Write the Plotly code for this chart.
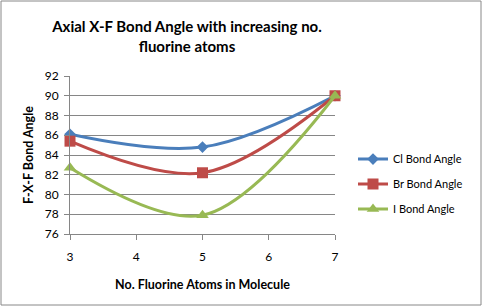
import plotly.graph_objects as go

x_vals = [3, 5, 7]
cl_vals = [86.1, 84.8, 90.0]
br_vals = [85.4, 82.2, 90.0]
i_vals = [82.7, 77.9, 90.0]
series_names = ["Cl Bond Angle", "Br Bond Angle", "I Bond Angle"]
colors = ["#4A7EBB", "#BE4B48", "#98B954"]
symbols = ["diamond", "square", "triangle-up"]
marker_sizes = [9, 11, 11]

W, H = 483, 307
L, R, T, B = 70, 148, 76, 73
pw, ph = W - L - R, H - T - B

fig = go.Figure()
for name, vals, c, s, ms in zip(series_names, [cl_vals, br_vals, i_vals], colors, symbols, marker_sizes):
    fig.add_trace(go.Scatter(
        x=x_vals, y=vals, name=name, mode="lines+markers", legendgroup=name,
        line=dict(color=c, width=3, shape="spline", smoothing=1.0),
        marker=dict(color=c, symbol=s, size=ms), cliponaxis=False,
    ))

font_fam = "Lato, Open Sans, sans-serif"
fig.update_layout(
    width=W, height=H,
    margin=dict(l=L, r=R, t=T, b=B),
    paper_bgcolor="white", plot_bgcolor="white",
    font=dict(family=font_fam, size=11, color="#000"),
    title=dict(text="<b>Axial X-F Bond Angle with increasing no.<br>fluorine atoms</b>",
               x=187 / W, xanchor="center", y=1 - 32 / H, yanchor="middle",
               font=dict(size=15, family=font_fam)),
    showlegend=True,
    legend=dict(x=1 + 18 / pw, xanchor="left", y=0.316, yanchor="middle",
                font=dict(size=11), tracegroupgap=6, itemwidth=30,
                bgcolor="rgba(0,0,0,0)"),
    xaxis=dict(range=[3, 7], tickvals=[3, 4, 5, 6, 7], showgrid=False,
               showline=True, linecolor="#868686", linewidth=1,
               ticks="outside", ticklen=5, tickcolor="#868686",
               tickfont=dict(size=12), zeroline=False, ticklabelstandoff=7,
               title=dict(text="<b>No. Fluorine Atoms in Molecule</b>", font=dict(size=12.5), standoff=16)),
    yaxis=dict(range=[76, 92], dtick=2, showgrid=True, gridcolor="#868686", gridwidth=1,
               showline=True, linecolor="#868686", linewidth=1,
               ticks="outside", ticklen=5, tickcolor="#868686",
               tickfont=dict(size=12), zeroline=False, ticklabelstandoff=3,
               title=dict(text="<b>F-X-F Bond Angle</b>", font=dict(size=12.5), standoff=8)),
    shapes=[dict(type="rect", xref="paper", yref="paper",
                 x0=-(L - 1) / pw, x1=1 + (R - 2) / pw,
                 y0=-(B - 2) / ph, y1=1 + (T - 1) / ph,
                 line=dict(color="#888888", width=1), fillcolor="rgba(0,0,0,0)", layer="below")],
)

fig.write_html("out.html")
